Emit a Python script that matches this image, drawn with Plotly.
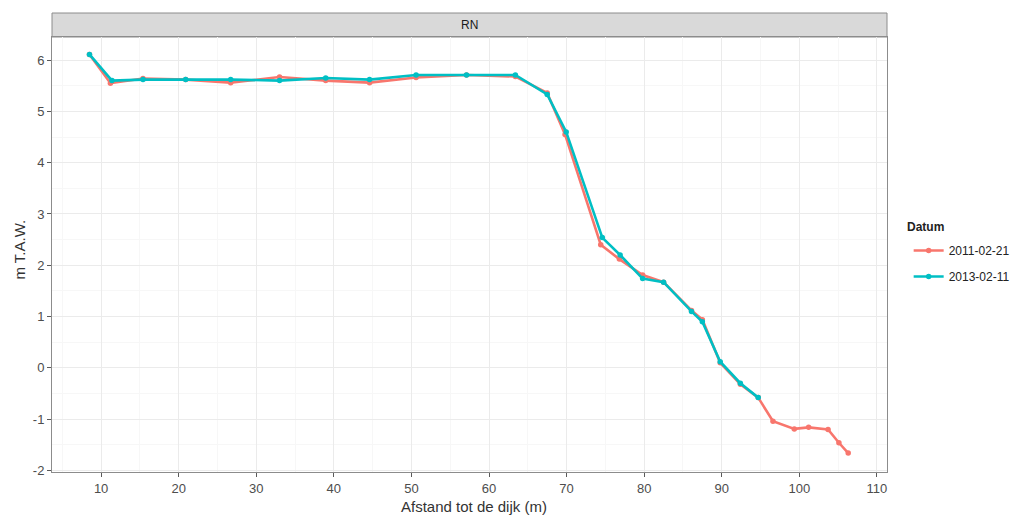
import plotly.graph_objects as go

# Data
x_2011 = [8.5, 11.2, 15.4, 20.9, 26.7, 33.0, 38.95, 44.6, 50.6, 57.1, 63.4, 67.5, 69.8, 74.4,
          76.8, 79.8, 82.5, 86.1, 87.5, 89.8, 92.4, 94.7, 96.6, 99.35, 101.2, 103.7, 105.1, 106.3]
y_2011 = [6.11, 5.55, 5.64, 5.62, 5.56, 5.67, 5.60, 5.56, 5.66, 5.71, 5.68, 5.36, 4.55, 2.40,
          2.12, 1.81, 1.67, 1.12, 0.94, 0.10, -0.32, -0.58, -1.04, -1.19, -1.16, -1.20, -1.46, -1.66]

x_2013 = [8.5, 11.4, 15.4, 20.9, 26.7, 33.0, 38.95, 44.6, 50.6, 57.1, 63.4, 67.5, 69.95, 74.6,
          76.9, 79.8, 82.5, 86.1, 87.5, 89.8, 92.4, 94.7]
y_2013 = [6.11, 5.60, 5.62, 5.62, 5.62, 5.60, 5.65, 5.62, 5.71, 5.71, 5.71, 5.33, 4.60, 2.54,
          2.20, 1.74, 1.67, 1.10, 0.90, 0.12, -0.30, -0.58]

series_names = ["2011-02-21", "2013-02-11"]
series_colors = ["#F8766D", "#00BFC4"]
x_ticks = [10, 20, 30, 40, 50, 60, 70, 80, 90, 100, 110]
y_ticks = [-2, -1, 0, 1, 2, 3, 4, 5, 6]
panel_title = "RN"
x_title = "Afstand tot de dijk (m)"
y_title = "m T.A.W."
legend_title = "Datum"

fig = go.Figure()
for i, (name, xs, ys, col) in enumerate(zip(series_names, [x_2011, x_2013], [y_2011, y_2013], series_colors)):
    fig.add_trace(go.Scatter(
        x=xs, y=ys, mode="lines+markers", name=name, legendgroup=f"g{i}",
        line=dict(color=col, width=2.6),
        marker=dict(color=col, size=5.5),
    ))

font_family = "Liberation Sans, Arial, sans-serif"
W, H = 1027, 517
L, R, T, B = 52, 127, 37, 45
plot_h = H - T - B
plot_w = W - L - R
PX0, PY1 = L, H - B  # plot-area left / bottom in page pixels

axis_common = dict(
    showline=True, mirror=True, linecolor="#8C8C8C", linewidth=1,
    showgrid=True, gridcolor="#EBEBEB", gridwidth=1,
    ticks="outside", ticklen=4, tickcolor="#5A5A5A",
    tickfont=dict(family=font_family, size=13, color="#4D4D4D"),
    zeroline=False, automargin=False,
)

fig.update_layout(
    width=W, height=H,
    margin=dict(l=L, r=R, t=T, b=B),
    paper_bgcolor="white", plot_bgcolor="white",
    font=dict(family=font_family),
    xaxis=dict(range=[3.67, 111.3], tickvals=x_ticks, ticktext=[str(v) for v in x_ticks],
               minor=dict(dtick=5, tick0=0, showgrid=True, gridcolor="#F7F7F7", ticks=""),
               **axis_common),
    yaxis=dict(range=[-2.03, 6.45], tickvals=y_ticks, ticktext=[str(v) for v in y_ticks],
               minor=dict(dtick=0.5, tick0=0, showgrid=True, gridcolor="#F7F7F7", ticks=""),
               **axis_common),
    legend=dict(
        font=dict(size=12, color="#222222"),
        x=(922 - PX0) / plot_w, xanchor="left",
        y=(PY1 - 263.5) / plot_h, yanchor="middle",
        bgcolor="rgba(0,0,0,0)", tracegroupgap=7,
    ),
    shapes=[dict(type="rect", xref="paper", yref="paper", x0=0, x1=1,
                 y0=1, y1=1 + 24 / plot_h,
                 fillcolor="#D9D9D9", line=dict(color="#8C8C8C", width=1), layer="below")],
    annotations=[
        dict(text=panel_title, xref="paper", yref="paper", x=0.5, y=1 + 12 / plot_h,
             showarrow=False, font=dict(size=12, color="#1A1A1A"),
             xanchor="center", yanchor="middle"),
        dict(text=x_title, xref="paper", yref="paper", x=(481 - PX0) / plot_w, y=-34 / plot_h,
             showarrow=False, font=dict(size=15, color="#333333"),
             xanchor="center", yanchor="middle"),
        dict(text=y_title, xref="paper", yref="paper", x=(18 - PX0) / plot_w, y=(PY1 - 250) / plot_h,
             showarrow=False, font=dict(size=15, color="#333333"), textangle=-90,
             xanchor="center", yanchor="middle"),
        dict(text="<b>" + legend_title + "</b>", xref="paper", yref="paper",
             x=(918 - PX0) / plot_w, y=(PY1 - 227) / plot_h,
             showarrow=False, font=dict(size=12, color="#222222"),
             xanchor="left", yanchor="middle"),
    ],
)

# remove the default 8px body margin so the figure fills the window exactly
fig.write_html("out.html", config={"displayModeBar": False},
               post_script="document.body.style.margin='0';document.body.style.overflow='hidden';")
